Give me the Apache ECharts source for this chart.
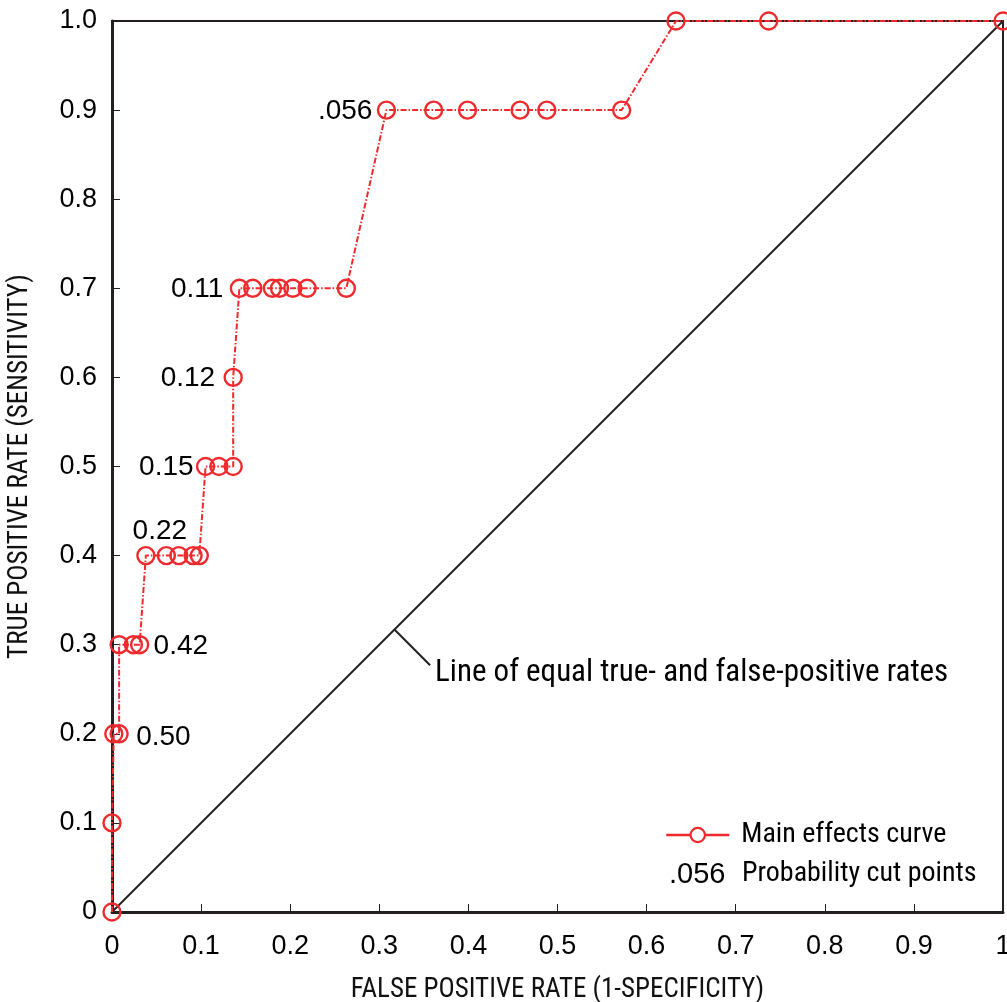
<!DOCTYPE html>
<html><head><meta charset="utf-8">
<script src="https://cdn.jsdelivr.net/npm/echarts@6/dist/echarts.min.js"></script>
<style>html,body{margin:0;padding:0;background:#fff}#c{width:1007px;height:1002px}</style>
</head><body><div id="c"></div>
<script>
// ROC curve points: [false positive rate, true positive rate]
const fpr = [0, 0, 0.002, 0.008, 0.008, 0.024, 0.031, 0.038, 0.061, 0.075, 0.091, 0.098,
  0.105, 0.120, 0.136, 0.136, 0.143, 0.158, 0.180, 0.188, 0.203, 0.219, 0.263,
  0.308, 0.361, 0.399, 0.458, 0.488, 0.572, 0.633, 0.737, 1.0];
const tpr = [0, 0.1, 0.2, 0.2, 0.3, 0.3, 0.3, 0.4, 0.4, 0.4, 0.4, 0.4,
  0.5, 0.5, 0.5, 0.6, 0.7, 0.7, 0.7, 0.7, 0.7, 0.7, 0.7,
  0.9, 0.9, 0.9, 0.9, 0.9, 0.9, 1.0, 1.0, 1.0];
// Probability cut point labels and the curve point index they annotate
const cutLabels = ['.056', '0.11', '0.12', '0.15', '0.22', '0.42', '0.50'];
const cutIndex = [23, 16, 15, 12, 7, 6, 3];
const xTicks = ['0', '0.1', '0.2', '0.3', '0.4', '0.5', '0.6', '0.7', '0.8', '0.9', '1'];
const yTicks = ['0', '0.1', '0.2', '0.3', '0.4', '0.5', '0.6', '0.7', '0.8', '0.9', '1.0'];
const equalLine = [[0, 0], [1, 1]];
const annotText = 'Line of equal true- and false-positive rates';
const annotLeader = [[0.317, 0.317], [0.357, 0.277]];

const RED = '#ee2a2e', INK = '#231f20';
const NARROW = '"Roboto Condensed","Liberation Sans Narrow",Roboto,sans-serif';
const SANS = '"Liberation Sans",Arial,sans-serif';

const curve = fpr.map((x, i) => [x, tpr[i]]);
// label placement per cut label (style only)
const labelPlace = {
  '.056': {position: 'left', offset: [-9, 1]},
  '0.11': {position: 'left', offset: [-11, 1]},
  '0.12': {position: 'left', offset: [-13, 1]},
  '0.15': {position: 'left', offset: [-7, 1]},
  '0.22': {position: 'top', offset: [14, -5]},
  '0.42': {position: 'right', offset: [9, 2]},
  '0.50': {position: 'right', offset: [12, 3]}
};
const cutData = cutLabels.map((t, k) => {
  const p = curve[cutIndex[k]];
  return {value: [p[0], p[1]], name: t,
    label: Object.assign({show: true, formatter: t, color: '#000', fontFamily: SANS, fontSize: 28}, labelPlace[t])};
});

const chart = echarts.init(document.getElementById('c'));
const axisCommon = {
  type: 'value', min: 0, max: 1, interval: 0.1,
  axisLine: {show: true, onZero: false, lineStyle: {color: INK, width: 3}},
  axisTick: {show: true, inside: true, length: 8, lineStyle: {color: INK, width: 1}},
  splitLine: {show: false},
  nameLocation: 'middle',
  nameTextStyle: {fontFamily: NARROW, fontSize: 27, color: '#111'}
};
chart.setOption({
  animation: false,
  backgroundColor: '#fff',
  grid: {left: 112, top: 21, right: 4, bottom: 90, show: true, borderColor: INK, borderWidth: 2,
    outerBoundsMode: 'none', containLabel: false},
  xAxis: Object.assign({}, axisCommon, {
    name: 'FALSE POSITIVE RATE (1-SPECIFICITY)', nameGap: 65,
    axisLabel: {margin: 21, fontFamily: SANS, fontSize: 27, color: '#000',
      formatter: (v) => xTicks[Math.round(v * 10)]}
  }),
  yAxis: Object.assign({}, axisCommon, {
    name: 'TRUE POSITIVE RATE (SENSITIVITY)', nameGap: 78,
    axisLabel: {margin: 15, fontFamily: SANS, fontSize: 27, color: '#000',
      formatter: (v) => yTicks[Math.round(v * 10)]}
  }),
  legend: {
    left: 665, top: 821, orient: 'vertical', padding: 0,
    itemWidth: 63, itemHeight: 18, itemGap: 10,
    data: [{name: 'Main effects curve', lineStyle: {type: 'solid', width: 2.5, color: RED},
      itemStyle: {color: '#fff', borderColor: RED, borderWidth: 2.2}}],
    textStyle: {fontFamily: NARROW, fontSize: 28, color: '#000', padding: [0, 0, 0, 7]}
  },
  graphic: [{
    type: 'text', left: 669, top: 860,
    style: {text: '.056', fontFamily: SANS, fontSize: 29, fill: '#000'}
  }, {
    type: 'text', left: 742, top: 860,
    style: {text: 'Probability cut points', fontFamily: NARROW, fontSize: 28, fill: '#000'}
  }],
  series: [{
    type: 'line', name: 'equal', data: equalLine, symbol: 'none', silent: true,
    lineStyle: {color: INK, width: 2}, z: 1
  }, {
    type: 'line', name: 'leader', data: annotLeader, symbol: 'none', silent: true,
    lineStyle: {color: INK, width: 2}, z: 1,
    endLabel: {show: true, formatter: annotText, fontFamily: NARROW, fontSize: 31, color: '#000',
      offset: [-3, 8], align: 'left', verticalAlign: 'middle'}
  }, {
    type: 'line', name: 'Main effects curve', data: curve,
    symbol: 'circle', symbolSize: 17, showAllSymbol: true,
    lineStyle: {color: RED, width: 2, type: [6, 2, 1.5, 2]},
    itemStyle: {color: 'rgba(255,255,255,0)', borderColor: RED, borderWidth: 2.4},
    z: 3
  }, {
    type: 'scatter', name: 'cuts', data: cutData, symbolSize: 0, silent: true, z: 4,
    itemStyle: {opacity: 1}
  }]
});
</script></body></html>
